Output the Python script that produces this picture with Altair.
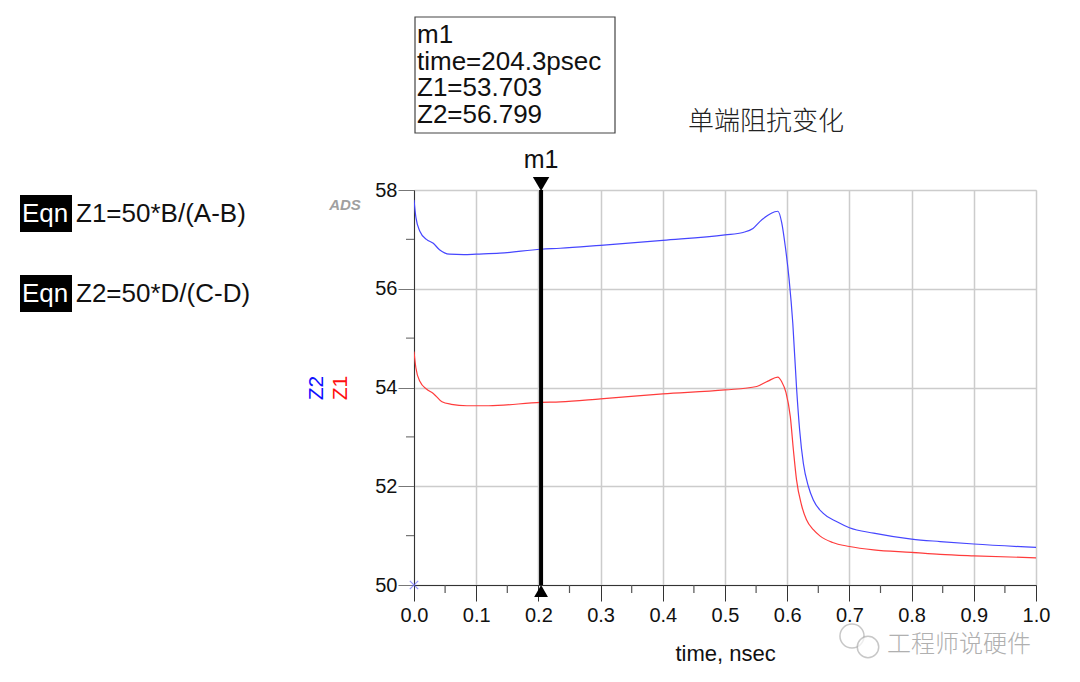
import altair as alt
import pandas as pd

# ---- data ----
t_z2 = [0, 0.003, 0.0096, 0.02, 0.031, 0.041, 0.057, 0.08, 0.1, 0.138, 0.2043, 0.235,
        0.3, 0.4, 0.5, 0.529, 0.545, 0.556, 0.569, 0.58, 0.585, 0.591, 0.597, 0.603,
        0.609, 0.615, 0.62, 0.626, 0.634, 0.642, 0.658, 0.68, 0.70, 0.739, 0.8, 0.846, 0.9, 1.0]
z2 = [57.8, 57.45, 57.16, 57.0, 56.92, 56.79, 56.70, 56.69, 56.70, 56.72, 56.80, 56.82,
      56.88, 56.98, 57.09, 57.14, 57.22, 57.36, 57.49, 57.56, 57.57, 57.35, 56.85, 56.2,
      55.3, 54.0, 53.14, 52.46, 52.0, 51.72, 51.45, 51.28, 51.16, 51.05, 50.93, 50.88, 50.83, 50.76]

t_z1 = [0, 0.003, 0.0096, 0.02, 0.031, 0.045, 0.06, 0.085, 0.12, 0.2043, 0.235, 0.3, 0.4,
        0.5, 0.551, 0.569, 0.585, 0.591, 0.598, 0.605, 0.61, 0.615, 0.623, 0.631,
        0.642, 0.653, 0.673, 0.70, 0.739, 0.8, 0.846, 0.9, 1.0]
z1 = [54.73, 54.4, 54.12, 53.97, 53.88, 53.71, 53.66, 53.63, 53.63, 53.70, 53.71, 53.77, 53.87,
      53.95, 54.02, 54.13, 54.21, 54.12, 53.90, 53.41, 52.73, 52.13, 51.62, 51.32,
      51.12, 50.99, 50.86, 50.78, 50.71, 50.66, 50.62, 50.59, 50.55]

x_ticks = [0.0, 0.1, 0.2, 0.3, 0.4, 0.5, 0.6, 0.7, 0.8, 0.9, 1.0]
x_minor = [0.05, 0.15, 0.25, 0.35, 0.45, 0.55, 0.65, 0.75, 0.85, 0.95]
y_ticks = [50, 52, 54, 56, 58]
y_minor = [51, 53, 55, 57]

marker_name = "m1"
marker_t = 0.2043
marker_z1 = 53.703
marker_z2 = 56.799

eqn_lines = ["Z1=50*B/(A-B)", "Z2=50*D/(C-D)"]
title_text = "单端阻抗变化"
watermark = "工程师说硬件"

BLUE = "#4646ff"
RED = "#ff3c3c"
FONT = "Liberation Sans"
W, H = 622, 395

df = pd.concat([
    pd.DataFrame({"t": t_z1, "v": z1, "s": "Z1"}),
    pd.DataFrame({"t": t_z2, "v": z2, "s": "Z2"}),
])

xs = alt.Scale(domain=[0, 1], nice=False, zero=False)
ys = alt.Scale(domain=[50, 58], nice=False, zero=False)

lines = alt.Chart(df).mark_line(strokeWidth=1.2, interpolate="monotone", clip=True).encode(
    x=alt.X("t:Q", scale=xs, axis=alt.Axis(
        values=x_ticks, format=".1f", grid=True, gridColor="#cccccc", gridWidth=1.5,
        domainColor="#333333", tickColor="#333333", tickSize=16, labelFontSize=20,
        labelFont=FONT, labelColor="#111111", labelPadding=4, title="time, nsec",
        titleFont=FONT, titleFontSize=22, titleFontWeight="normal", titleColor="#111111",
        titlePadding=18, labelFlush=False)),
    y=alt.Y("v:Q", scale=ys, axis=alt.Axis(
        values=y_ticks, format="d", grid=True, gridColor="#cccccc", gridWidth=1.5,
        domainColor="#333333", tickColor="#777777", tickSize=16, labelFontSize=20,
        labelFont=FONT, labelColor="#111111", labelPadding=1, title=None, labelFlush=False)),
    color=alt.Color("s:N", scale=alt.Scale(domain=["Z1", "Z2"], range=[RED, BLUE]), legend=None),
)

xminor = alt.Chart(pd.DataFrame({"t": x_minor})).mark_rule(color="#555555", strokeWidth=1.2).encode(
    x=alt.X("t:Q", scale=xs), y=alt.value(H), y2=alt.value(H + 8))
yminor = alt.Chart(pd.DataFrame({"v": y_minor})).mark_rule(color="#777777", strokeWidth=1.2).encode(
    y=alt.Y("v:Q", scale=ys), x=alt.value(-8), x2=alt.value(0))

origin = alt.Chart(pd.DataFrame({"t": [0.0], "v": [50.0]})).mark_point(
    shape="M-1,-1L1,1M-1,1L1,-1", filled=False, color="#6a6aff", size=70, strokeWidth=1.2).encode(
    x=alt.X("t:Q", scale=xs), y=alt.Y("v:Q", scale=ys))

mk = pd.DataFrame({"t": [marker_t], "lo": [50.0], "hi": [58.0]})
mrule = alt.Chart(mk).mark_rule(color="black", strokeWidth=4).encode(
    x=alt.X("t:Q", scale=xs), y=alt.Y("lo:Q", scale=ys), y2="hi:Q")
mtop = alt.Chart(mk).mark_point(shape="triangle-down", filled=True, color="black", size=270,
                                yOffset=-6, opacity=1).encode(
    x=alt.X("t:Q", scale=xs), y=alt.Y("hi:Q", scale=ys))
mbot = alt.Chart(mk).mark_point(shape="triangle-up", filled=True, color="black", size=190,
                                yOffset=6, opacity=1).encode(
    x=alt.X("t:Q", scale=xs), y=alt.Y("lo:Q", scale=ys))
mlabel = alt.Chart(mk).mark_text(text=marker_name, font=FONT, fontSize=25, color="#111111",
                                 baseline="middle", dy=-30).encode(
    x=alt.X("t:Q", scale=xs), y=alt.Y("hi:Q", scale=ys))

one = pd.DataFrame({"a": [0]})


def txt(text, x, y, size, color="#111111", align="left", font=FONT, angle=0, **kw):
    return alt.Chart(one).mark_text(text=text, font=font, fontSize=size, color=color,
                                    align=align, baseline="middle", angle=angle, **kw).encode(
        x=alt.value(x), y=alt.value(y))


def box(x1, x2, y1, y2, fill, stroke=None):
    kw = {"fill": fill}
    if stroke:
        kw.update(stroke=stroke, strokeWidth=1.2)
    return alt.Chart(one).mark_rect(**kw).encode(
        x=alt.value(x1), x2=alt.value(x2), y=alt.value(y1), y2=alt.value(y2))


readout = [
    marker_name,
    f"time={marker_t * 1000:.1f}psec",
    f"Z1={marker_z1:.3f}",
    f"Z2={marker_z2:.3f}",
]
layers = [lines, xminor, yminor, origin, mrule, mtop, mbot, mlabel]
layers.append(box(1, 201, -173, -57, "white", stroke="#444444"))
for i, line in enumerate(readout):
    layers.append(txt(line, 3, -155 + i * 26.5, 26))

layers.append(txt(title_text, 352, -68, 26, color="#222222", align="center",
                  font="Noto Sans CJK SC", fontWeight=300))
layers.append(txt("ADS", -69, 15, 15, color="#a0a0a0", align="center", fontStyle="italic",
                  fontWeight="bold"))
layers.append(txt("Z2", -97, 198, 21, color="#1010ff", align="center", angle=270))
layers.append(txt("Z1", -73, 198, 21, color="#ff1010", align="center", angle=270))

for i, eq in enumerate(eqn_lines):
    y0 = 5 + i * 80
    layers.append(box(-394, -342, y0, y0 + 37, "black"))
    layers.append(txt("Eqn", -392, y0 + 18.5, 26, color="white"))
    layers.append(txt(eq, -338, y0 + 18.5, 26))

# watermark
layers.append(alt.Chart(one).mark_point(shape="circle", filled=True, fill="white",
                                        stroke="#b0b0b0", strokeWidth=1.5, size=580).encode(
    x=alt.value(438), y=alt.value(446)))
layers.append(alt.Chart(one).mark_point(shape="circle", filled=True, fill="white",
                                        stroke="#b0b0b0", strokeWidth=1.5, size=460).encode(
    x=alt.value(454), y=alt.value(457)))
layers.append(txt(watermark, 473, 455, 24, color="#b0b0b0", font="Noto Sans CJK SC",
                  fontWeight=300))

chart = alt.layer(*layers).properties(
    width=W, height=H,
    padding={"left": 406, "top": 182, "right": 36, "bottom": 89},
    autosize=alt.AutoSizeParams(type="none"),
).configure_view(stroke=None).configure(background="white")

chart.save("out.html", embed_options={"renderer": "svg", "actions": False})
